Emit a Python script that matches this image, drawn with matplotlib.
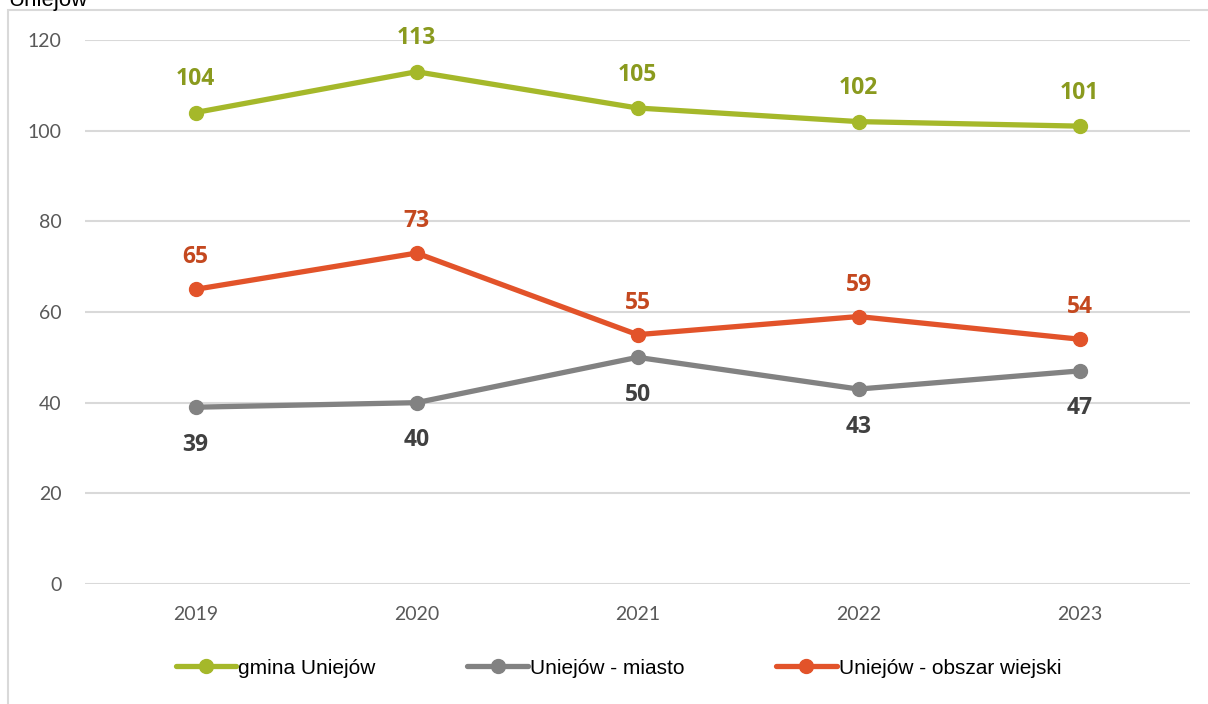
import matplotlib.pyplot as plt
from matplotlib.patches import Rectangle

years = ["2019", "2020", "2021", "2022", "2023"]
gmina = [104, 113, 105, 102, 101]
miasto = [39, 40, 50, 43, 47]
wies = [65, 73, 55, 59, 54]

series_names = ["gmina Uniejów", "Uniejów - miasto", "Uniejów - obszar wiejski"]
line_colors = ["#a5b82a", "#828282", "#e2532a"]
label_colors = ["#8a9a1e", "#404040", "#c4481f"]

fig = plt.figure(figsize=(12.08, 7.04), dpi=100)
ax = fig.add_axes([85 / 1208, 1 - 584 / 704, 1105 / 1208, 544 / 704])

# outer chart frame (cut off at right and bottom)
fig.patches.append(Rectangle((8 / 1208, -0.1), 1.2, 1.1 - 10 / 704,
                             transform=fig.transFigure, fill=False,
                             edgecolor="#d9d9d9", linewidth=1.5))
fig.text(8 / 1208, 1 - 6 / 704, "Uniejów", fontsize=16, family="Liberation Sans",
         va="baseline", ha="left", color="black")

x = list(range(len(years)))
data = [gmina, miasto, wies]
offsets = [24, -27, 23]
for vals, name, lc, tc, off in zip(data, series_names, line_colors, label_colors, offsets):
    ax.plot(x, vals, color=lc, lw=3.8, marker="o", markersize=10,
            solid_capstyle="round", label=name, zorder=3)
    for xi, v in zip(x, vals):
        ax.annotate(str(v), (xi, v), xytext=(0, off), textcoords="offset points",
                    ha="center", va="center", fontsize=16.5, fontweight="bold",
                    family="Open Sans", color=tc)

ax.set_xlim(-0.5, 4.5)
ax.set_ylim(0, 120)
ax.set_yticks(range(0, 121, 20))
ax.set_xticks(x)
ax.set_xticklabels(years)
ax.grid(axis="y", color="#d9d9d9", lw=1.5)
ax.set_axisbelow(True)
for s in ax.spines.values():
    s.set_visible(False)
ax.tick_params(axis="both", length=0, labelcolor="#595959", labelsize=14)
ax.tick_params(axis="x", pad=16)
ax.tick_params(axis="y", pad=17)
for lab in ax.get_xticklabels() + ax.get_yticklabels():
    lab.set_family("Lato")

fig.legend(loc="center", bbox_to_anchor=(0.512, 1 - 668 / 704), ncol=3,
           frameon=False, handlelength=2.9, handletextpad=0.1, columnspacing=4.4,
           prop={"family": "Liberation Sans", "size": 15})

fig.savefig("out.png", dpi=100)
